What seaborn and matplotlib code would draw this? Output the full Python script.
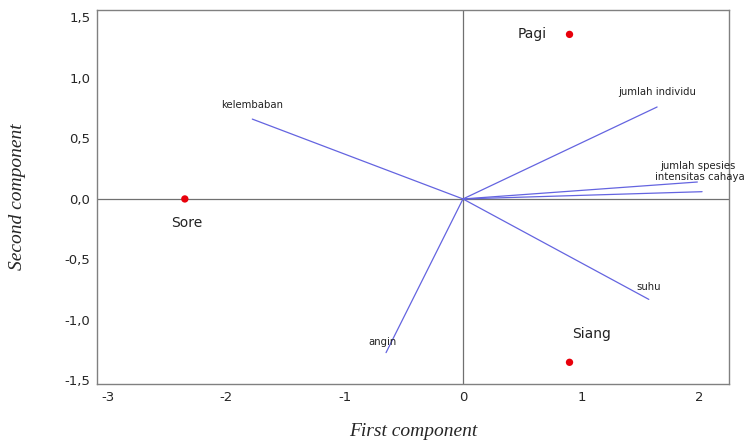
import numpy as np
import pandas as pd
import matplotlib
matplotlib.use('Agg')
import matplotlib.pyplot as plt
import seaborn as sns

# scores (observations)
obs_names = ['Pagi', 'Siang', 'Sore']
obs_pc1 = [0.90, 0.90, -2.35]
obs_pc2 = [1.36, -1.35, 0.00]

# loadings (variables)
var_names = ['kelembaban', 'jumlah individu', 'jumlah spesies',
             'intensitas cahaya', 'suhu', 'angin']
var_pc1 = [-1.78, 1.64, 1.98, 2.02, 1.57, -0.65]
var_pc2 = [0.66, 0.76, 0.14, 0.06, -0.83, -1.27]

sns.set_style('white')
plt.rcParams['font.family'] = ['DejaVu Sans']
plt.rcParams['axes.unicode_minus'] = False

fig = plt.figure(figsize=(7.48, 4.43), dpi=100)
ax = fig.add_axes([0.130, 0.133, 0.845, 0.844])

ax.axhline(0, color='#707070', lw=0.9, zorder=1)
ax.axvline(0, color='#707070', lw=0.9, zorder=1)

for x, y in zip(var_pc1, var_pc2):
    ax.plot([0, x], [0, y], color='#6464e0', lw=0.9, zorder=2)

# variable labels
lab_off = {'kelembaban': (0.0, 0.12),
           'jumlah individu': (0.0, 0.12),
           'jumlah spesies': (0.0, 0.13),
           'intensitas cahaya': (-0.02, 0.12),
           'suhu': (0.0, 0.10),
           'angin': (-0.03, 0.09)}
for n, x, y in zip(var_names, var_pc1, var_pc2):
    dx, dy = lab_off[n]
    ax.text(x + dx, y + dy, n, fontsize=7.3, ha='center', va='center',
            color='#222222', clip_on=False, zorder=3)

df = pd.DataFrame({'pc1': obs_pc1, 'pc2': obs_pc2, 'nama': obs_names})
sns.scatterplot(data=df, x='pc1', y='pc2', color='#e8000b', s=28,
                edgecolor='none', ax=ax, zorder=4)

obs_off = {'Pagi': (-0.19, 0.0, 'right'),
           'Siang': (0.19, 0.23, 'center'),
           'Sore': (0.02, -0.20, 'center')}
for n, x, y in zip(obs_names, obs_pc1, obs_pc2):
    dx, dy, ha = obs_off[n]
    ax.text(x + dx, y + dy, n, fontsize=10, ha=ha, va='center',
            color='#222222')

ax.set_xlim(-3.09, 2.25)
ax.set_ylim(-1.53, 1.56)
ax.set_xticks([-3, -2, -1, 0, 1, 2])
ax.set_yticks([-1.5, -1.0, -0.5, 0.0, 0.5, 1.0, 1.5])
ax.set_yticklabels([f'{v:.1f}'.replace('.', ',') for v in ax.get_yticks()])
ax.tick_params(axis='both', direction='out', length=3, width=0.8,
               color='#707070', labelsize=9.5, pad=2)
for s in ax.spines.values():
    s.set_color('#808080')
    s.set_linewidth(1.0)

ax.set_xlabel('First component', fontsize=14, fontstyle='italic',
              family='Liberation Serif', labelpad=14)
ax.set_ylabel('Second component', fontsize=14, fontstyle='italic',
              family='Liberation Serif', labelpad=28)

fig.savefig('out.png', dpi=100)
